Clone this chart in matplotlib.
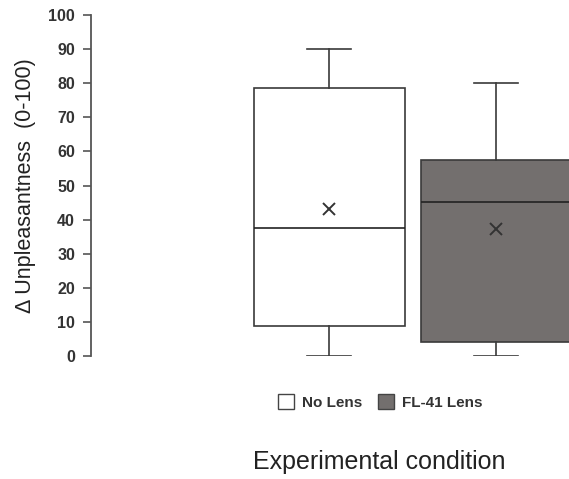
import matplotlib
matplotlib.use("Agg")
import matplotlib.pyplot as plt
from matplotlib.patches import Patch

plt.rcParams['font.family'] = ['Liberation Sans', 'DejaVu Sans']

# box summary values
conditions = ['No Lens', 'FL-41 Lens']
q1 = [8.8, 4.2]
medians = [37.4, 45.2]
q3 = [78.5, 57.5]
whisker_lo = [0, 0]
whisker_hi = [90, 80]
means = [43, 37.2]
fills = ['white', '#736f6e']

yticks = list(range(0, 101, 10))

fig = plt.figure(figsize=(5.69, 4.79), dpi=100, facecolor='w')
ax = fig.add_axes([91 / 569, 123 / 479, (569 - 91) / 569, 341 / 479])

stats = []
for i, name in enumerate(conditions):
    stats.append(dict(label=name, q1=q1[i], med=medians[i], q3=q3[i],
                      whislo=whisker_lo[i], whishi=whisker_hi[i],
                      mean=means[i], fliers=[]))

edge = '#3a3a3a'
bp = ax.bxp(stats, positions=[1, 2], widths=0.906, capwidths=0.264,
            patch_artist=True, showmeans=True,
            boxprops=dict(edgecolor=edge, linewidth=1.2),
            medianprops=dict(color='#222222', linewidth=1.2),
            whiskerprops=dict(color=edge, linewidth=1.2),
            capprops=dict(color=edge, linewidth=1.2),
            meanprops=dict(marker='x', markeredgecolor='#333333',
                           markersize=9, markeredgewidth=1.4))
for patch, c in zip(bp['boxes'], fills):
    patch.set_facecolor(c)

ax.set_xlim(-0.43, 2.438)
ax.set_ylim(0, 100)
ax.set_yticks(yticks)
ax.set_xticks([])
for s in ['top', 'right', 'bottom']:
    ax.spines[s].set_visible(False)
ax.spines['left'].set_color('#555555')
ax.spines['left'].set_linewidth(1.3)
ax.tick_params(axis='y', length=5.5, width=1.2, color='#555555',
               labelsize=11.5, labelcolor='#333333', pad=6)
for lbl in ax.get_yticklabels():
    lbl.set_fontweight('bold')

fig.text(26 / 569, 1 - 186 / 479, 'Δ Unpleasantness  (0-100)', rotation=90,
         ha='center', va='center', fontsize=15.5, color='#222222')
fig.text(379 / 569, 1 - 462 / 479, 'Experimental condition',
         ha='center', va='center', fontsize=18, color='#222222')

handles = [Patch(facecolor=c, edgecolor='#444444', linewidth=1.0) for c in fills]
fig.legend(handles, conditions, loc='center', ncol=2, frameon=False,
           bbox_to_anchor=(380 / 569, 1 - 402 / 479),
           prop=dict(size=11, weight='bold'),
           handlelength=1.1, handleheight=1.1, handletextpad=0.5,
           columnspacing=1.0, labelcolor='#333333')

fig.savefig('out.png', dpi=100)
